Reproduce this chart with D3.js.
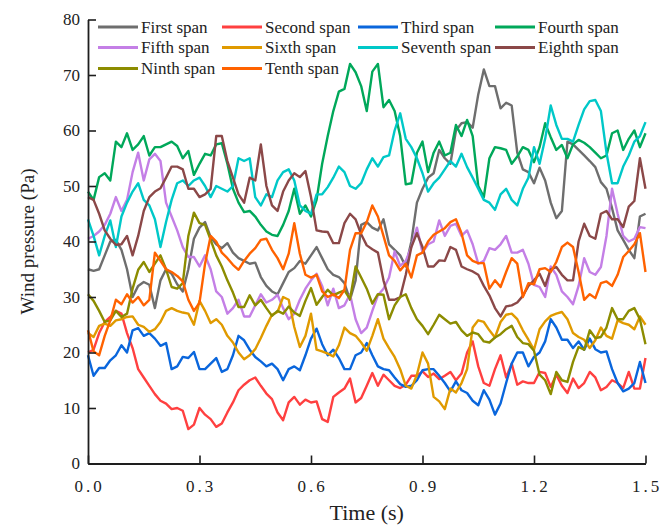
<!DOCTYPE html>
<html>
<head>
<meta charset="utf-8">
<script src="https://cdn.jsdelivr.net/npm/d3@7"></script>
<style>
    body { margin: 0; background: #fff; }
    text { font-family: "Times New Roman", "Liberation Serif", serif; fill: #222; }
</style>
</head>
<body>
<div id="viz"></div>
<script>
/*##############################
#       Chart data             #
###############################*/
// sampling step of the records (s)
const dt = 0.015;

const seriesNames = ["First span", "Second span", "Third span", "Fourth span", "Fifth span",
                     "Sixth span", "Seventh span", "Eighth span", "Ninth span", "Tenth span"];
const seriesColors = ["#6e6e6e", "#ff4040", "#0a66dc", "#00a85a", "#c47fe6",
                      "#e09a00", "#00c8c8", "#8b4848", "#8c8c00", "#ff6200"];

const xTicks = [0, 0.3, 0.6, 0.9, 1.2, 1.5];
const yTicks = [0, 10, 20, 30, 40, 50, 60, 70, 80];

const first = [35,34.7,35,37.5,40,40.3,38.5,35,30,32, 32.7,32.2,28,33,35,34.2,32.3,31,35,40.5,
    42.5,43.5,40.8,39.5,38.8,39.7,38,37,36.5,36, 36.2,33.6,32,31,30.5,32.5,34.5,35.2,36.5,36,
    37.5,39,37,35,34,33.6,32.5,29.5,33,43, 43.5,42.5,42,44,39.5,38.5,37.5,35.5,40,47,
    49.5,51.5,52.3,56.5,55,54,60,61.3,61.5,60.5, 66.5,71,68,68,64,65,64.5,56,53,52.5,
    50.5,53.3,51,47,44.2,45.5,58,57.5,56.5,55.5, 54.5,53.4,50.7,49.5,46,42,40.3,38.5,37,44.5, 45];
const second = [20,20.5,23.5,25.5,26.4,27.5,27,23.5,20.8,17, 15.5,14,12.5,11.3,10.8,9.8,10,9.5,6.2,7,
    10,8.8,8,6.6,7.2,9.2,11,13.2,14.2,15, 15.5,14,12.6,11.6,9.2,7.8,11,12,10.6,11.5,
    11,11.2,8,7.5,12,12.8,13.5,15.3,11,11.8, 14,16.3,14,16,15,14,13.6,14.2,15.8,15.8,
    16.6,15.6,16.2,15.2,15.8,16.5,15,16.2,20,22, 17.5,14.5,14,17,19.5,15.5,18,14.2,14.8,14.5,
    14.5,16.5,16.3,13.8,16,14,12.7,15.3,13.6,14.5, 16.5,15.5,13.2,13.8,15,14.5,13.6,16.5,13.5,13.5, 19];
const third = [19.5,15.8,17.2,17.2,18.6,19.5,21.3,20,24,24.4, 23,23.5,22.5,21.2,21.7,17,17.5,19.2,19,20.1,
    17,17,18,19,16.5,17,19.5,23,22.2,20.5, 19.2,18.4,17.5,18,17,15,17,17.5,16.8,19.5,
    22.5,24.3,21.5,19.5,20.5,19,17,17,19.5,20, 21.7,19.5,17.5,17,16.8,15.5,14.3,13.8,14,15,
    16.8,17,17,15.8,14.5,13,14.8,13.2,12.7,11.3, 10.5,13.2,11.5,8.8,10.8,14.5,18,20,20,17.5,
    19.2,20,22,26,24.5,22.3,22.3,20.8,22,20.5, 22.5,20.6,20,20.2,17,14.5,13,13.5,14.5,18.3, 14.5];
const fourth = [49,47.5,51.6,52.3,51,58,57,59.5,56.5,57.5, 59,55.5,57,57,57.5,58,57.2,55,56.3,52,
    54,55.8,55.5,57.5,57.7,54,49.5,47,45.3,45.5, 44.5,43,41.8,41.2,41,43,45.5,49.5,45,46.5,
    44.5,47.5,54,59,63.5,67,67.5,72,70.5,68, 63.5,70.6,72,64.2,65.5,63.5,59,50.3,50.5,56,
    58,52.5,56,58,55.5,56,61,59,61.9,59, 50,48,55,57,56.8,56.5,54,55.3,57,56.5,
    54.3,57,61.3,58.8,56.5,57.4,55,57.5,58.3,57.8, 57,56,55,55.5,59.5,60,56.5,58.5,60,57, 59.5];
const fifth = [40.5,41,41.8,43,45,48,45.5,47.5,52.5,56, 51,54.8,55.8,54.5,47,44.5,42,39,37.2,37.2,
    35.5,37.5,35,31,30,27,28,29.5,26.5,26.5, 28.5,30.5,29,29.5,30.4,28,26,27,29.5,31.5,
    33,34.2,32,28.5,31.5,28,28.5,30.5,26,23.5, 24.5,27.5,30.3,31.5,33.5,38.2,35.6,36.5,39,42.5,
    38,39.5,40,43.8,41,42.8,43.2,41,42,39.5, 36,36.5,38.8,38.5,39.5,41,38,38,38.5,36,
    32.2,31.8,30,35.5,34,31,30,28.7,32,37, 34.5,34,35.4,41,49.5,45,41,40,40.5,42.6, 42.4];
const sixth = [23.5,22.8,24.8,25.2,24.8,25.8,26,26.4,26.5,25, 24.6,23.7,24.2,25.5,27.5,28,27.5,27.2,27,25,
    29.3,27.5,25.3,26,25,23,21.8,20,18.8,19.5, 20.6,22.6,24.8,26.8,27.3,30,29.5,24.6,21,23,
    27,20.5,20.2,19.8,19.3,21.3,24.5,23.5,23,21.8, 20.3,23,26,22.5,20.8,19.2,17,14,13.5,16,
    20,18,12,11.2,9.8,13.5,12.8,14.5,17,24.5, 25.8,25.5,24,22.7,25.5,26.8,27,26,24,22.3,
    20.5,24.2,25.6,26.6,27,27.3,26,23.5,22.8,22.3, 20.8,22.2,24.5,23,22.5,25.8,25.3,25,24.2,26.5, 25];
const seventh = [44,41,37.5,41,43.8,39,44.5,47,49,50.5, 47.5,46.5,44,39,43.5,47.5,50.5,51,50,51,
    51.5,50,48,50,49.5,49,50,55,54.5,55, 48,46.5,48.5,48,51,52.5,53,51,46.5,45.5,
    45,48.5,48.5,49.8,51.5,53.5,52.5,50,49.5,50.5, 53,55,53.5,55.2,55.5,60,63.1,58.5,57,55,
    52.3,49,50.5,51.5,53,54.5,53.5,55.8,53.4,51.5, 49.5,47.5,47,45.7,48.5,49.5,47.5,46.5,49.5,51.5,
    57,54,58.5,64.5,61,58.5,58.5,58,61,63.8, 65.3,65.5,63.5,56,50.5,50.5,53.5,55.5,58,59, 61.5];
const eighth = [48,47.5,45,42,40.5,39.4,39.5,41,37.5,41, 45.5,48,49,49.6,51.5,53.5,53.5,53,49.5,49.5,
    48,48.5,49.5,59,59,54.5,51.5,48.5,47,51.5, 51,57.5,50,46.5,45.5,49,51,52.3,51.6,52.7,
    48,42,41.8,41.7,39.7,39.7,43.3,45,44,41.3, 39.3,38.6,38,33,29.5,29.5,30,34,39,41.5,
    39,35.5,35.5,36.6,36.5,39,38.5,35.5,35,34.6, 34,32,30.3,28,26.5,28.3,28.5,29,30.2,32,
    33,34.2,32,35,35.4,34,33,33,40,43.2, 41,40.5,45,45.5,44,44,42.6,46.3,47.3,55, 49.5];
const ninth = [30.5,29.3,27.5,25.5,25.8,27.5,26.4,27,31.5,34.9, 36.3,34.5,36,37.5,35,31.8,31.5,32.5,41,45.2,
    43.3,43,40.3,37.5,35.5,33,30.8,28.2,28.2,30.3, 28.5,29.5,28,26.6,27.5,27,28.3,27.2,26.6,29.3,
    31.6,28.6,30,31.3,30.3,30.8,31.2,29.6,35.5,33.5, 31.5,28.8,30.5,30.4,26,28.5,30,30.5,28,26,
    24.8,23.3,25,26.8,26,25.2,25.5,24,23,23.6, 23.3,22,21.8,22.7,23.3,24.2,24.8,22.8,21.7,21.5,
    20.3,16,15,12.5,16.5,15,14.7,18.3,21,20.5, 24,22.6,22.8,24.5,28,26,26,27.5,28,26, 21.5];
const tenth = [24,20.2,19.5,23,25.8,29.5,28.7,30.5,29,30, 28.5,29.5,38,36.5,35,34.5,33.8,32.8,29.5,27.5,
    29,36,41,40,38,37,35.8,34.9,36.5,37.8, 38.8,40.3,40.5,38.5,37,35,37.8,43.3,37.8,34,
    33.5,34,31,30,30.5,29.8,31.3,38.5,41.5,41.5, 43.5,46.5,44.5,41,37.5,36.5,34.8,36,33.5,37.5,
    38,40,41.2,41.8,42.4,43.5,44,41.5,37.5,36.5, 36.1,36.1,31.5,33,31.8,34.5,37,36,30,32.5,
    32.3,35,35.2,34.5,36.3,39,39.8,39,34.5,29.5, 30.5,29.8,32.5,32.8,32,34,37.2,38.3,39.5,41.5, 34.5];

const seriesValues = [first, second, third, fourth, fifth, sixth, seventh, eighth, ninth, tenth];

/*##############################
#       Drawing                #
###############################*/
function drawChart() {

    const width = 661, height = 527;
    const margin = {top: 19.5, right: 15.5, bottom: 63.5, left: 88};

    const svg = d3.select("#viz").append("svg")
        .attr("width", width)
        .attr("height", height)
        .style("background-color", "#fff");

    const x = d3.scaleLinear()
        .domain([0, 1.5])
        .range([margin.left, width - margin.right]);

    const y = d3.scaleLinear()
        .domain([0, 80])
        .range([height - margin.bottom, margin.top]);

    // lines first, axes drawn on top
    const line = d3.line()
        .x(function (d, i) { return x(i * dt); })
        .y(function (d) { return y(d); });

    svg.append("g")
        .selectAll("path")
        .data(seriesValues)
        .enter()
        .append("path")
            .attr("fill", "none")
            .attr("stroke", function (d, i) { return seriesColors[i]; })
            .attr("stroke-width", 2.4)
            .attr("stroke-linejoin", "round")
            .attr("d", line);

    // Add X axis (ticks pointing inward)
    const xAxis = svg.append("g")
        .attr("transform", "translate(0," + y(0) + ")")
        .call(d3.axisBottom(x)
            .tickValues(xTicks)
            .tickSizeInner(-8)
            .tickSizeOuter(0)
            .tickPadding(16)
            .tickFormat(d3.format(".1f")));

    // Add Y axis (ticks pointing inward)
    const yAxis = svg.append("g")
        .attr("transform", "translate(" + x(0) + ",0)")
        .call(d3.axisLeft(y)
            .tickValues(yTicks)
            .tickSizeInner(-8)
            .tickSizeOuter(0)
            .tickPadding(8));

    [xAxis, yAxis].forEach(function (g) {
        g.select(".domain").attr("stroke", "#1e1e1e").attr("stroke-width", 1.8);
        g.selectAll(".tick line").attr("stroke", "#1e1e1e").attr("stroke-width", 1.6);
        g.selectAll(".tick text")
            .attr("font-family", "'Times New Roman', 'Liberation Serif', serif")
            .attr("font-size", "17px")
            .attr("fill", "#333");
    });
    // spaced digits like the original; nudge so the last label stays inside
    xAxis.selectAll(".tick text").attr("letter-spacing", "3px").attr("dx", "1px");

    // Axis labels
    svg.append("text")
        .attr("text-anchor", "middle")
        .attr("x", (x(0) + x(1.5)) / 2)
        .attr("y", 520)
        .attr("font-size", "22px")
        .text("Time (s)");

    svg.append("text")
        .attr("text-anchor", "middle")
        .attr("transform", "translate(34," + ((y(0) + y(80)) / 2) + ") rotate(-90)")
        .attr("font-size", "19px")
        .text("Wind pressure (Pa)");

    // Legend, 4 columns x 3 rows
    const colX = [98, 222, 358, 495];
    const rowY = [27, 47.5, 68.5];

    const legend = svg.append("g")
        .selectAll("g")
        .data(seriesNames)
        .enter()
        .append("g")
            .attr("transform", function (d, i) {
                return "translate(" + colX[i % 4] + "," + rowY[Math.floor(i / 4)] + ")";
            });

    legend.append("line")
        .attr("x1", 0)
        .attr("x2", 40)
        .attr("stroke", function (d, i) { return seriesColors[i]; })
        .attr("stroke-width", 3);

    legend.append("text")
        .attr("x", 43)
        .attr("dy", "0.35em")
        .attr("font-size", "17px")
        .text(function (d) { return d; });
};

drawChart();
</script>
</body>
</html>
